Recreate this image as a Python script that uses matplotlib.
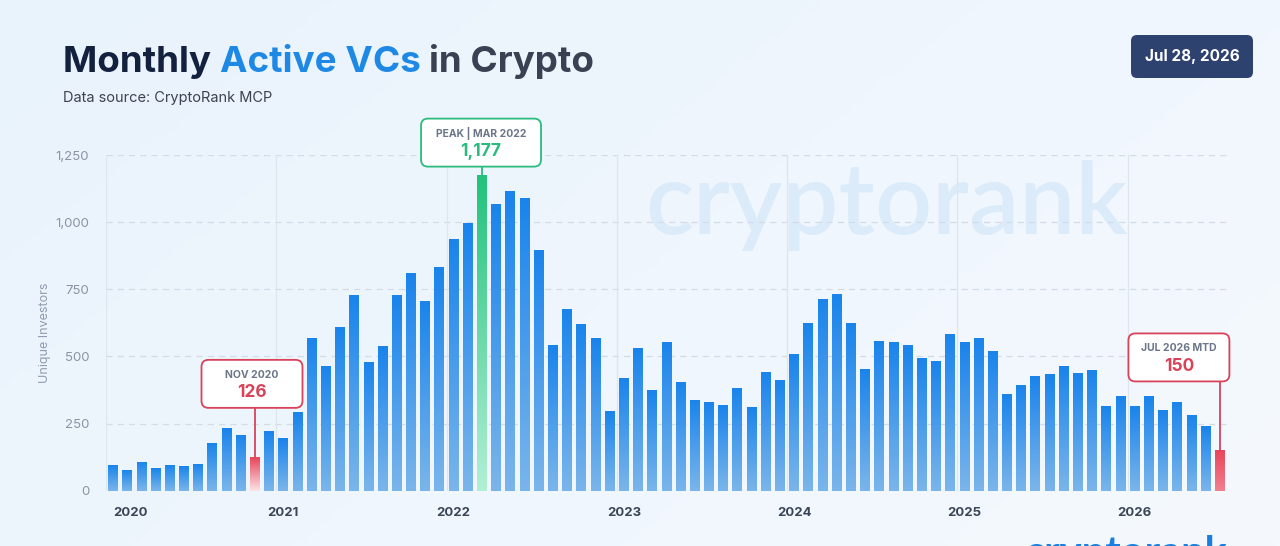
import numpy as np
import matplotlib
matplotlib.use("Agg")
import matplotlib.pyplot as plt
from matplotlib.patches import FancyBboxPatch
from matplotlib.lines import Line2D
from matplotlib.transforms import IdentityTransform
from matplotlib.colors import to_rgb

plt.rcParams['font.family'] = ['Inter', 'DejaVu Sans']

# monthly unique investors, Jan 2020 .. Jul 2026 (MTD)
years = [2020, 2021, 2022, 2023, 2024, 2025, 2026]
investors = [
    95, 77, 108, 84, 95, 93, 98, 176, 234, 209, 126, 223,          # 2020
    197, 292, 569, 463, 611, 729, 481, 537, 729, 809, 708, 832,    # 2021
    938, 998, 1177, 1067, 1116, 1089, 896, 542, 676, 619, 569, 297,  # 2022
    418, 530, 374, 552, 406, 339, 329, 319, 384, 312, 441, 411,    # 2023
    510, 626, 715, 733, 626, 455, 559, 554, 542, 493, 483, 582,    # 2024
    552, 567, 522, 359, 394, 428, 433, 465, 438, 448, 314, 351,    # 2025
    314, 351, 300, 332, 282, 240, 150,                             # 2026
]
month_names = ['JAN', 'FEB', 'MAR', 'APR', 'MAY', 'JUN',
               'JUL', 'AUG', 'SEP', 'OCT', 'NOV', 'DEC']
labels = [f"{month_names[i % 12]} {2020 + i // 12}" for i in range(len(investors))]

nov_idx = labels.index('NOV 2020')
peak_idx = int(np.argmax(investors))
last_idx = len(investors) - 1

W, H = 1280, 546
fig = plt.figure(figsize=(W / 100, H / 100), dpi=100)

# page background
bg = fig.add_axes([0, 0, 1, 1], zorder=-10)
gx = np.linspace(0, 1, 200)
gy = np.linspace(0, 1, 100)
GX, GY = np.meshgrid(gx, gy)
t = np.clip(0.65 * GX + 0.35 * GY, 0, 1)
c1 = np.array(to_rgb('#e9f3fc'))
c2 = np.array(to_rgb('#f5f9fe'))
img = c1[None, None, :] * (1 - t[..., None]) + c2[None, None, :] * t[..., None]
bg.imshow(img, extent=[0, 1, 0, 1], aspect='auto', origin='upper')
bg.axis('off')

ax = fig.add_axes([106 / W, (H - 490.7) / H, 1121 / W, 335.7 / H])
ax.set_facecolor('none')
x = np.arange(len(investors))

# watermark
ax.text(0.696, 0.985, 'cryptorank', transform=ax.transAxes, ha='center', va='top',
        fontsize=72, family='Lato', fontweight='semibold', color='#dcebfa', zorder=0)

# grid
for v in [250, 500, 750, 1000, 1250]:
    ax.axhline(v, color='#d3dbe6', lw=0.9, ls=(0, (5, 4)), zorder=1)
for yr in years:
    ax.axvline(labels.index(f'JAN {yr}') - 0.5, color='#dde5ee', lw=0.9, zorder=1)

# bars with vertical gradient
bar_w = 0.7
bars = ax.bar(x, investors, width=bar_w, color='none', zorder=2)
styles = {
    'blue': ('#1a84ec', '#7ab5ea'),
    nov_idx: ('#e8445a', '#fbe3e6'),
    peak_idx: ('#22c27c', '#b2efd5'),
    last_idx: ('#e8465a', '#f2808e'),
}
for i, (b, v) in enumerate(zip(bars, investors)):
    top, bot = styles.get(i, styles['blue'])
    ct, cb = np.array(to_rgb(top)), np.array(to_rgb(bot))
    s = np.linspace(0, 1, 64)[:, None]
    grad = (ct * (1 - s) + cb * s)[:, None, :]
    im = ax.imshow(grad, extent=[i - bar_w / 2, i + bar_w / 2, 0, v],
                   aspect='auto', zorder=2, interpolation='bilinear')
    im.set_clip_path(b)

ax.set_xlim(-0.5, len(investors) - 0.5)
ax.set_ylim(0, 1250)

for sp in ax.spines.values():
    sp.set_visible(False)
ax.tick_params(length=0)
ax.set_yticks([0, 250, 500, 750, 1000, 1250])
ax.set_yticklabels(['0', '250', '500', '750', '1,000', '1,250'],
                   color='#8a94a3', fontsize=9.5)
ax.tick_params(axis='y', pad=12)
ax.set_xticks([labels.index(f'JAN {yr}') for yr in years])
ax.set_xticklabels([str(yr) for yr in years], color='#3a4556',
                   fontsize=9.5, fontweight='bold')
ax.tick_params(axis='x', pad=12)
ax.get_xticklabels()[0].set_ha('left')
ax.set_ylabel('Unique Investors', color='#8f9bb0', fontsize=9, labelpad=9)
ax.yaxis.set_label_coords(-55 / 1121, 0.47)

# title in three colours
fig.canvas.draw()
r = fig.canvas.get_renderer()
tx = 63 / W
for part, col in [('Monthly ', '#13213f'), ('Active VCs ', '#1e88e5'), ('in Crypto', '#394152')]:
    tt = fig.text(tx, (H - 72) / H, part, fontsize=26.5, fontweight='bold', color=col, va='baseline')
    bb = tt.get_window_extent(renderer=r)
    tx += bb.width / W
fig.text(63 / W, (H - 98) / H, 'Data source: CryptoRank MCP', fontsize=10.5,
         color='#3d4350', va='center')

# date badge
badge = FancyBboxPatch((1131, H - 78), 122, 43, boxstyle='round,pad=0,rounding_size=6',
                       transform=IdentityTransform(), fc='#2e4270', ec='none')
fig.add_artist(badge)
fig.text(1192 / W, (H - 56.5) / H, 'Jul 28, 2026', fontsize=11, fontweight='bold',
         color='white', ha='center', va='center')


def callout(idx, head, value, color, w, dx, gap):
    x0, y0 = ax.transData.transform((idx, investors[idx]))
    h = 48
    cx = x0 + dx
    by = y0 + gap
    fig.add_artist(Line2D([x0, x0], [y0, by], transform=IdentityTransform(),
                          color=color, lw=1.3, zorder=6))
    fig.add_artist(FancyBboxPatch((cx - w / 2, by), w, h,
                                  boxstyle='round,pad=0,rounding_size=7',
                                  transform=IdentityTransform(), fc='white',
                                  ec=color, lw=1.3, zorder=7))
    fig.text(cx / W, (by + h - 15) / H, head, fontsize=7.5, fontweight='bold',
             color='#6b7689', ha='center', va='center', zorder=8)
    fig.text(cx / W, (by + h - 33) / H, value, fontsize=12.5, fontweight='bold',
             color=color, ha='center', va='center', zorder=8)


callout(nov_idx, labels[nov_idx], f'{investors[nov_idx]:,}', '#d8435a', 101, -3, 49)
callout(peak_idx, f'PEAK | {labels[peak_idx]}', f'{investors[peak_idx]:,}', '#2bbb7c', 120, -1, 8)
callout(last_idx, f'{labels[last_idx]} MTD', f'{investors[last_idx]:,}', '#d8435a', 101, -41, 69)

# logo peeking in at the bottom edge
fig.text(1228 / W, (H - 535) / H, 'cryptorank', fontsize=30, fontweight='bold',
         family='Lato', color='#1a7fe0', ha='right', va='top')

fig.savefig('out.png', dpi=100)
